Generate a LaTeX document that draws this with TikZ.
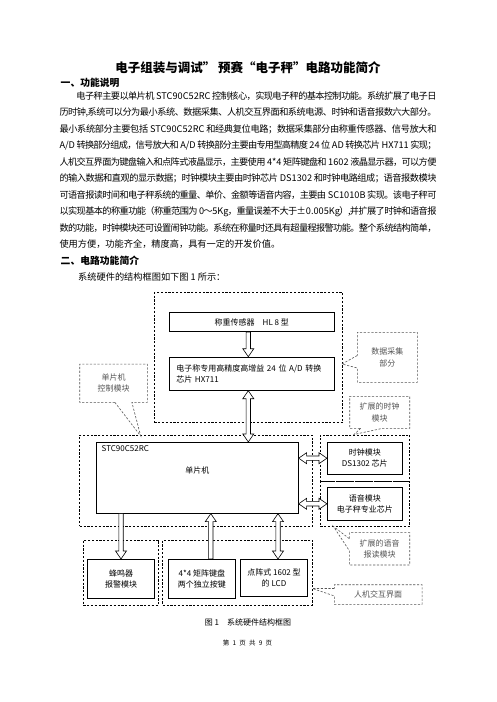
\documentclass[tikz,border=0pt]{standalone}
\usepackage{fontspec}
\setmainfont{Noto Sans CJK SC}
\usepackage{tikz}
\usetikzlibrary{positioning,calc,shapes.callouts}
\definecolor{noteGray}{HTML}{555555}
% glue between CJK characters so a line can be spread to the full width
\newcount\hanchar
\hanchar="4E00
\loop \XeTeXcharclass\hanchar=1 \advance\hanchar by 1 \ifnum\hanchar<"A000 \repeat
\XeTeXcharclass"FF5E=1
\XeTeXcharclass"FF08=2
\XeTeXcharclass"3001=3 \XeTeXcharclass"3002=3 \XeTeXcharclass"FF0C=3
\XeTeXcharclass"FF1B=3 \XeTeXcharclass"FF1A=3 \XeTeXcharclass"FF09=3
\XeTeXinterchartokenstate=1
\XeTeXinterchartoks 0 1 = {\hskip0pt plus 1.5pt minus 1pt\relax}
\XeTeXinterchartoks 1 0 = {\hskip0pt plus 1.5pt minus 1pt\relax}
\XeTeXinterchartoks 1 1 = {\hskip0pt plus 1.5pt minus 1pt\relax}
\XeTeXinterchartoks 1 2 = {\hskip0pt plus 1.5pt minus 1pt\relax}
\XeTeXinterchartoks 1 3 = {\hskip0pt plus 1.5pt minus 1pt\relax}
\XeTeXinterchartoks 2 1 = {\hskip0pt plus 1.5pt minus 1pt\relax}
\XeTeXinterchartoks 3 1 = {\hskip0pt plus 1.5pt minus 1pt\relax}
\XeTeXinterchartoks 3 0 = {\hskip0pt plus 1.5pt minus 1pt\relax}
\XeTeXinterchartoks 0 3 = {\hskip0pt plus 1.5pt minus 1pt\relax}
\XeTeXinterchartoks 3 2 = {\hskip0pt plus 1.5pt minus 1pt\relax}
\newcommand{\titlefont}{\fontsize{12.5}{14}\selectfont\bfseries}
\newcommand{\bodyfont}{\fontsize{9.2}{11}\selectfont}
\newcommand{\diagfont}{\fontsize{8}{11.5}\selectfont}
\newcommand{\fullline}[1]{\makebox[377pt][s]{#1}}
% hollow block arrow, head at #2
\newcommand{\hollowarrow}[2]{%
  \coordinate (ha-s) at (#1);
  \coordinate (ha-t) at (#2);
  \coordinate (ha-b) at ($(ha-t)!8pt!(ha-s)$);
  \draw[arrowline] ($(ha-s)!2.2pt!90:(ha-t)$) -- ($(ha-b)!2.2pt!90:(ha-t)$) -- ($(ha-b)!5.5pt!90:(ha-t)$)
    -- (ha-t) -- ($(ha-b)!5.5pt!-90:(ha-t)$) -- ($(ha-b)!2.2pt!-90:(ha-t)$) -- ($(ha-s)!2.2pt!-90:(ha-t)$) -- cycle;}
% hollow block arrow, heads at both ends
\newcommand{\hollowarrows}[2]{%
  \coordinate (ha-s) at (#1);
  \coordinate (ha-t) at (#2);
  \coordinate (ha-a) at ($(ha-s)!8pt!(ha-t)$);
  \coordinate (ha-b) at ($(ha-t)!8pt!(ha-s)$);
  \draw[arrowline] (ha-s) -- ($(ha-a)!5.5pt!90:(ha-t)$) -- ($(ha-a)!2.2pt!90:(ha-t)$) -- ($(ha-b)!2.2pt!90:(ha-t)$)
    -- ($(ha-b)!5.5pt!90:(ha-t)$) -- (ha-t) -- ($(ha-b)!5.5pt!-90:(ha-t)$) -- ($(ha-b)!2.2pt!-90:(ha-t)$)
    -- ($(ha-a)!2.2pt!-90:(ha-t)$) -- ($(ha-a)!5.5pt!-90:(ha-t)$) -- cycle;}

\begin{document}
\begin{tikzpicture}[x=1pt,y=-1pt,
    bodyline/.style={anchor=west,inner sep=0pt,font=\bodyfont},
    headline/.style={anchor=west,inner sep=0pt,font=\fontsize{9.8}{12}\selectfont\bfseries},
    box/.style={draw,line width=0.7pt,inner sep=2pt,font=\diagfont,align=center},
    grp/.style={draw,dash pattern=on 2.2pt off 1.6pt,line width=0.6pt,inner sep=0pt},
    note/.style={rectangle callout,draw=noteGray,text=noteGray,dash pattern=on 2.2pt off 1.6pt,
      line width=0.6pt,inner sep=0pt,font=\diagfont,align=center},
    arrowline/.style={draw,line width=0.6pt,fill=white,line join=miter}]
  \fill[white] (0,0) rectangle (496,702);
  \useasboundingbox (0,0) rectangle (496,702);

  % page text
  \node[font=\titlefont] (title) at (248,68) {电子组装与调试” 预赛“电子秤”电路功能简介};
  \node[headline] (head1) at (60.5,82.5) {一、功能说明};
  \node[bodyline] (l1) at (59.3,96) {\fullline{\hspace*{17pt}电子秤主要以单片机 STC90C52RC 控制核心，实现电子秤的基本控制功能。系统扩展了电子日}};
  \node[bodyline] (l2) at (59.3,112.5) {\fullline{历时钟,系统可以分为最小系统、数据采集、人机交互界面和系统电源、时钟和语音报数六大部分。}};
  \node[bodyline] (l3) at (59.3,129) {\fullline{最小系统部分主要包括 STC90C52RC 和经典复位电路；数据采集部分由称重传感器、信号放大和}};
  \node[bodyline] (l4) at (59.3,145.5) {\fullline{A/D 转换部分组成，信号放大和 A/D 转换部分主要由专用型高精度 24 位 AD 转换芯片 HX711 实现；}};
  \node[bodyline] (l5) at (59.3,162) {\fullline{人机交互界面为键盘输入和点阵式液晶显示，主要使用 4*4 矩阵键盘和 1602 液晶显示器，可以方便}};
  \node[bodyline] (l6) at (59.3,178.5) {\fullline{的输入数据和直观的显示数据；时钟模块主要由时钟芯片 DS1302 和时钟电路组成；语音报数模块}};
  \node[bodyline] (l7) at (59.3,195) {\fullline{可语音报读时间和电子秤系统的重量、单价、金额等语音内容，主要由 SC1010B 实现。该电子秤可}};
  \node[bodyline] (l8) at (59.3,211.5) {\fullline{以实现基本的称重功能（称重范围为 0～5Kg，重量误差不大于±0.005Kg）,并扩展了时钟和语音报}};
  \node[bodyline] (l9) at (59.3,228) {\fullline{数的功能，时钟模块还可设置闹钟功能。系统在称量时还具有超量程报警功能。整个系统结构简单，}};
  \node[bodyline] (l10) at (59.3,244.5) {使用方便，功能齐全，精度高，具有一定的开发价值。};
  \node[headline] (head2) at (60.5,261) {二、电路功能简介};
  \node[bodyline] (l11) at (78,277) {系统硬件的结构框图如下图 1 所示：};

  % dashed groups
  \node[grp,minimum width=188.4pt,minimum height=129.6pt] (daqgrp) at (248.5,357.5) {};
  \node[grp,minimum width=232.6pt,minimum height=91.3pt] (mcugrp) at (196,480.7) {};
  \node[grp,minimum width=89.4pt,minimum height=46pt] (clkgrp) at (365,458) {};
  \node[grp,minimum width=89.4pt,minimum height=45.3pt] (voicegrp) at (365,503.65) {};
  \node[grp,minimum width=75.4pt,minimum height=65pt] (buzzgrp) at (121,572.5) {};
  \node[grp,minimum width=149.6pt,minimum height=65pt] (hmigrp) at (237.5,572.5) {};

  % blocks
  \node[box,minimum width=165pt,minimum height=19.4pt] (sensor) at (251.8,322) {称重传感器\quad HL 8 型};
  \node[box,minimum width=165pt,minimum height=33.3pt,align=left,text width=151pt] (adc) at (251.8,373.7)
    {电子称专用高精度高增益 24 位 A/D 转换\\芯片 HX711};
  \node[box,minimum width=202pt,minimum height=71pt] (mcu) at (197.3,477.8) {};
  \node[anchor=north west,inner sep=0pt,font=\diagfont] (mcuchip) at ([shift={(5.5,3.5)}]mcu.north west) {STC90C52RC};
  \node[inner sep=0pt,font=\diagfont] (mcuname) at ([yshift=7pt]mcu.center) {单片机};
  \node[box,minimum width=75pt,minimum height=31.7pt] (clock) at (364.8,458.2) {时钟模块\\DS1302 芯片};
  \node[box,minimum width=75pt,minimum height=33pt] (voice) at (364.8,503.8) {语音模块\\电子秤专业芯片};
  \node[box,minimum width=67.4pt,minimum height=39pt] (buzzer) at (121,578.8) {蜂鸣器\\报警模块};
  \node[box,minimum width=67pt,minimum height=39pt] (keypad) at (201.8,578.8) {4*4 矩阵键盘\\两个独立按键};
  \node[box,minimum width=67.4pt,minimum height=36.7pt] (lcd) at (274,577.7) {点阵式 1602 型\\的 LCD};

  % hollow arrows
  \hollowarrow{[xshift=-3.5pt]sensor.south}{[xshift=-3.5pt]adc.north}
  \hollowarrows{[xshift=-3.5pt]adc.south}{[xshift=-3.5pt]adc.south |- mcu.north}
  \hollowarrows{mcu.east |- clock.west}{clock.west}
  \hollowarrows{mcu.east |- voice.west}{voice.west}
  \hollowarrow{buzzer.north |- mcu.south}{buzzer.north}
  \hollowarrow{[xshift=9pt]keypad.north}{[xshift=9pt]keypad.north |- mcu.south}
  \hollowarrows{[xshift=4pt]lcd.north}{[xshift=4pt]lcd.north |- mcu.south}

  % callouts
  \node[note,minimum width=67.6pt,minimum height=38.3pt,callout pointer width=17pt,
    callout absolute pointer={(140.7,436)}] (cmcu) at (113.5,383.2) {单片机\\控制模块};
  \node[note,minimum width=60pt,minimum height=50pt,callout pointer width=12.5pt,
    callout absolute pointer={(342,364)}] (cdaq) at (387.3,357.3) {数据采集\\部分};
  \node[note,minimum width=60pt,minimum height=32pt,callout pointer width=22pt,
    callout absolute pointer={(354,434.5)}] (cclk) at (379.7,412.3) {扩展的时钟\\模块};
  \node[note,minimum width=60.4pt,minimum height=32.3pt,callout pointer width=12pt,
    callout absolute pointer={(333.3,526.3)}] (cvoice) at (379.5,548.8) {扩展的语音\\报读模块};
  \node[note,minimum width=87.7pt,minimum height=19.6pt,callout pointer width=7.5pt,
    callout absolute pointer={(312.5,588.5)}] (chmi) at (378.2,594.5) {人机交互界面};

  % caption and page number
  \node[font=\fontsize{8}{10}\selectfont] (caption) at (248,622) {图 1\quad 系统硬件结构框图};
  \node[font=\fontsize{6.5}{8}\selectfont] (pagefoot) at (247.5,643) {\spaceskip=0.5em 第 1 页 共 9 页};
\end{tikzpicture}
\end{document}
